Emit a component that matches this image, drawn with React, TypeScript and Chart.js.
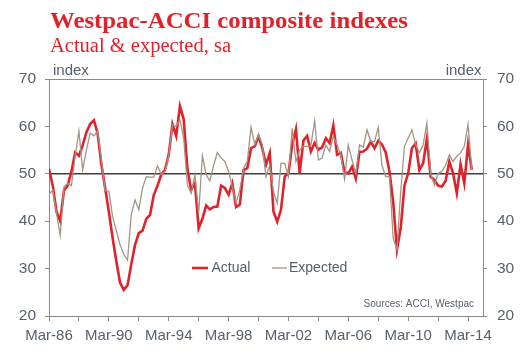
import React, { useEffect, useRef } from 'react';
import { Chart, registerables } from 'chart.js';
Chart.register(...registerables);

// Quarterly data, Mar-86 .. Jun-14
const actual = [
  51, 47.5, 42, 40, 46.5, 47.5, 50.5, 54.5, 53.8, 56,
  58.8, 60.5, 61.3, 58.5, 52, 47, 42, 36.5, 31.5, 27,
  25.5, 26.5, 31, 35, 37.5, 38, 40.5, 41.3, 45.5, 47.5,
  49.8, 50.8, 54, 60.5, 58, 64.3, 61.5, 51, 46.6, 48,
  38.5, 40.5, 43.3, 42.5, 43, 43.1, 47.5, 47, 45.6, 48,
  43, 43.5, 50.8, 51.2, 55.4, 55.8, 57.9, 55.4, 51.9, 54.4,
  42, 39.9, 42.4, 49.4, 50.1, 56.1, 59.4, 50.1, 57, 58,
  54.7, 56.5, 55.1, 55.6, 57.5, 56.5, 60.2, 54, 54.4, 50.3,
  50.1, 51.5, 49, 54.6, 54.7, 55.3, 56.8, 55.4, 57, 56.2,
  54.5, 50.5, 44, 34, 38.5, 47.5, 50.1, 55.4, 56.4, 50.8,
  52.2, 57.4, 49.4, 48.7, 47.5, 47.3, 48.5, 52.6, 50.1, 45.9,
  52, 48, 56.1, 50.8,
];
const expected = [
  45.6, 46.6, 41.7, 37, 47.3, 48, 47.5, 53.7, 59, 50.8,
  55, 58.6, 58, 59, 53, 46.5, 46.3, 41, 38, 35,
  33, 31.8, 41.5, 44.5, 42.4, 47, 49.4, 49.3, 49.3, 51.7,
  49.8, 50.5, 53.7, 60.4, 60, 61.4, 57.5, 47.6, 45.9, 49.8,
  41.7, 53.8, 49.8, 48.5, 51.8, 54.5, 53.3, 52.6, 50.5, 47.3,
  43.8, 46.6, 51.2, 52.6, 59.8, 56.2, 58.2, 56.2, 49.4, 51.8,
  46.2, 43.8, 52.2, 52.2, 49.4, 59.6, 52.6, 55, 55.8, 55.8,
  56, 61.2, 52.9, 53.3, 56.1, 54.7, 57.9, 56.1, 54, 48.9,
  56.1, 52.9, 50.1, 56.1, 55.6, 59.3, 56.8, 56.8, 59.8, 51.8,
  49.4, 49.4, 36.4, 33.9, 46.2, 55.8, 57.5, 59.3, 56.1, 54.4,
  56.1, 60.7, 50.1, 47.6, 50.1, 50.5, 51.8, 54, 52.6, 53.7,
  54.4, 55.8, 60.4, 50.8,
];
const xTickLabels = ['Mar-86', 'Mar-90', 'Mar-94', 'Mar-98', 'Mar-02', 'Mar-06', 'Mar-10', 'Mar-14'];
const quartersPerLabel = 16;
const quartersPerTick = 8;
const xMaxQuarter = 116; // Mar-15
const yMin = 20;
const yMax = 70;
const yStep = 10;
const refLine = 50;
const seriesNames = ['Actual', 'Expected'];
const titleText = 'Westpac-ACCI composite indexes';
const subtitleText = 'Actual & expected, sa';
const unitText = 'index';
const sourceText = 'Sources: ACCI, Westpac';

const RED = '#e0222b';
const TAUPE = '#a39486';
const TEXT = '#56606e';
const AXIS = '#8a8a8a';
const SANS = 'Arial, "Liberation Sans", sans-serif';
const SERIF = '"Liberation Serif", "DejaVu Serif", serif';

function fitText(ctx: CanvasRenderingContext2D, text: string, x: number, y: number, width: number) {
  const w = ctx.measureText(text).width;
  ctx.save();
  ctx.translate(x, y);
  ctx.scale(width / w, 1);
  ctx.fillText(text, 0, 0);
  ctx.restore();
}

const decor = {
  id: 'decor',
  beforeDatasetsDraw(chart: any) {
    const { ctx, chartArea: a, scales } = chart;
    const yr = scales.y.getPixelForValue(refLine);
    ctx.save();
    ctx.strokeStyle = '#3c3c3c';
    ctx.lineWidth = 1.5;
    ctx.beginPath();
    ctx.moveTo(a.left, yr);
    ctx.lineTo(a.right, yr);
    ctx.stroke();
    ctx.strokeStyle = AXIS;
    ctx.lineWidth = 1;
    ctx.beginPath();
    ctx.moveTo(a.left, Math.round(a.top) + 0.5);
    ctx.lineTo(a.right, Math.round(a.top) + 0.5);
    ctx.stroke();
    ctx.restore();
  },
  afterDraw(chart: any) {
    const { ctx, chartArea: a } = chart;
    ctx.save();
    ctx.textBaseline = 'alphabetic';
    // titles
    ctx.fillStyle = RED;
    ctx.textAlign = 'left';
    ctx.font = `bold 23px ${SERIF}`;
    fitText(ctx, titleText, 50, 28, 358);
    ctx.font = `20px ${SERIF}`;
    fitText(ctx, subtitleText, 50, 52, 181);
    // unit labels
    ctx.fillStyle = TEXT;
    ctx.font = `15px ${SANS}`;
    ctx.fillText(unitText, a.left + 4, a.top - 4.5);
    ctx.textAlign = 'right';
    ctx.fillText(unitText, a.right - 1.5, a.top - 4.5);
    // sources
    ctx.font = `10px ${SANS}`;
    ctx.fillText(sourceText, a.right - 9, a.bottom - 9.5);
    // legend
    const ly = 268;
    const lx = 192;
    ctx.lineCap = 'butt';
    ctx.strokeStyle = RED;
    ctx.lineWidth = 2.6;
    ctx.beginPath();
    ctx.moveTo(lx, ly);
    ctx.lineTo(lx + 16, ly);
    ctx.stroke();
    ctx.strokeStyle = TAUPE;
    ctx.lineWidth = 1.3;
    ctx.beginPath();
    ctx.moveTo(lx + 80, ly);
    ctx.lineTo(lx + 95, ly);
    ctx.stroke();
    ctx.fillStyle = TEXT;
    ctx.textAlign = 'left';
    ctx.textBaseline = 'middle';
    ctx.font = `14px ${SANS}`;
    ctx.fillText(seriesNames[0], lx + 19.5, ly + 0.5);
    ctx.fillText(seriesNames[1], lx + 97, ly + 0.5);
    ctx.restore();
  },
};

export default function App() {
  const ref = useRef<HTMLCanvasElement>(null);
  useEffect(() => {
    if (!ref.current) return;
    const yTickArr: number[] = [];
    for (let v = yMin; v <= yMax; v += yStep) yTickArr.push(v);
    const xTickArr: number[] = [];
    for (let q = 0; q <= (xTickLabels.length - 1) * quartersPerLabel; q += quartersPerTick) xTickArr.push(q);
    const yScale = (pos: 'left' | 'right', width: number, pad: number) => ({
      type: 'linear' as const,
      position: pos,
      min: yMin,
      max: yMax,
      afterBuildTicks: (s: any) => { s.ticks = yTickArr.map((v) => ({ value: v })); },
      afterFit: (s: any) => { s.width = width; },
      grid: { display: true, drawOnChartArea: false, drawTicks: true, tickLength: 4, color: AXIS },
      border: { display: true, color: AXIS, width: 1 },
      ticks: { color: TEXT, font: { size: 15.5, family: SANS }, padding: pad },
    });
    const chart = new Chart(ref.current, {
      type: 'line',
      data: {
        datasets: [
          {
            label: seriesNames[1],
            data: expected.map((v, i) => ({ x: i, y: v })),
            borderColor: TAUPE,
            borderWidth: 1.3,
            pointRadius: 0,
            tension: 0,
            yAxisID: 'y',
          },
          {
            label: seriesNames[0],
            data: actual.map((v, i) => ({ x: i, y: v })),
            borderColor: RED,
            borderWidth: 2.6,
            pointRadius: 0,
            tension: 0,
            yAxisID: 'y',
          },
        ],
      },
      options: {
        responsive: false,
        animation: false,
        layout: { padding: { top: 79, left: 0, right: 0, bottom: 0 } },
        plugins: { legend: { display: false }, tooltip: { enabled: false }, title: { display: false } },
        scales: {
          x: {
            type: 'linear',
            min: 0,
            max: xMaxQuarter,
            afterBuildTicks: (s: any) => { s.ticks = xTickArr.map((v) => ({ value: v })); },
            afterFit: (s: any) => { s.height = 355 - 316; },
            grid: { display: true, drawOnChartArea: false, drawTicks: true, tickLength: 5, color: AXIS },
            border: { display: true, color: AXIS, width: 1 },
            ticks: {
              autoSkip: false,
              maxRotation: 0,
              color: TEXT,
              font: { size: 15, family: SANS },
              padding: 6,
              callback: (v: any) => (Number(v) % quartersPerLabel === 0 ? xTickLabels[Number(v) / quartersPerLabel] : ''),
            },
          },
          y: yScale('left', 49, 9),
          y2: yScale('right', 47, 10),
        },
      },
      plugins: [decor],
    });
    return () => chart.destroy();
  }, []);
  return (
    <div style={{ position: 'absolute', left: 0, top: 0, width: 530, height: 355, background: '#fff' }}>
      <canvas ref={ref} width={530} height={355} style={{ display: 'block' }} />
    </div>
  );
}
